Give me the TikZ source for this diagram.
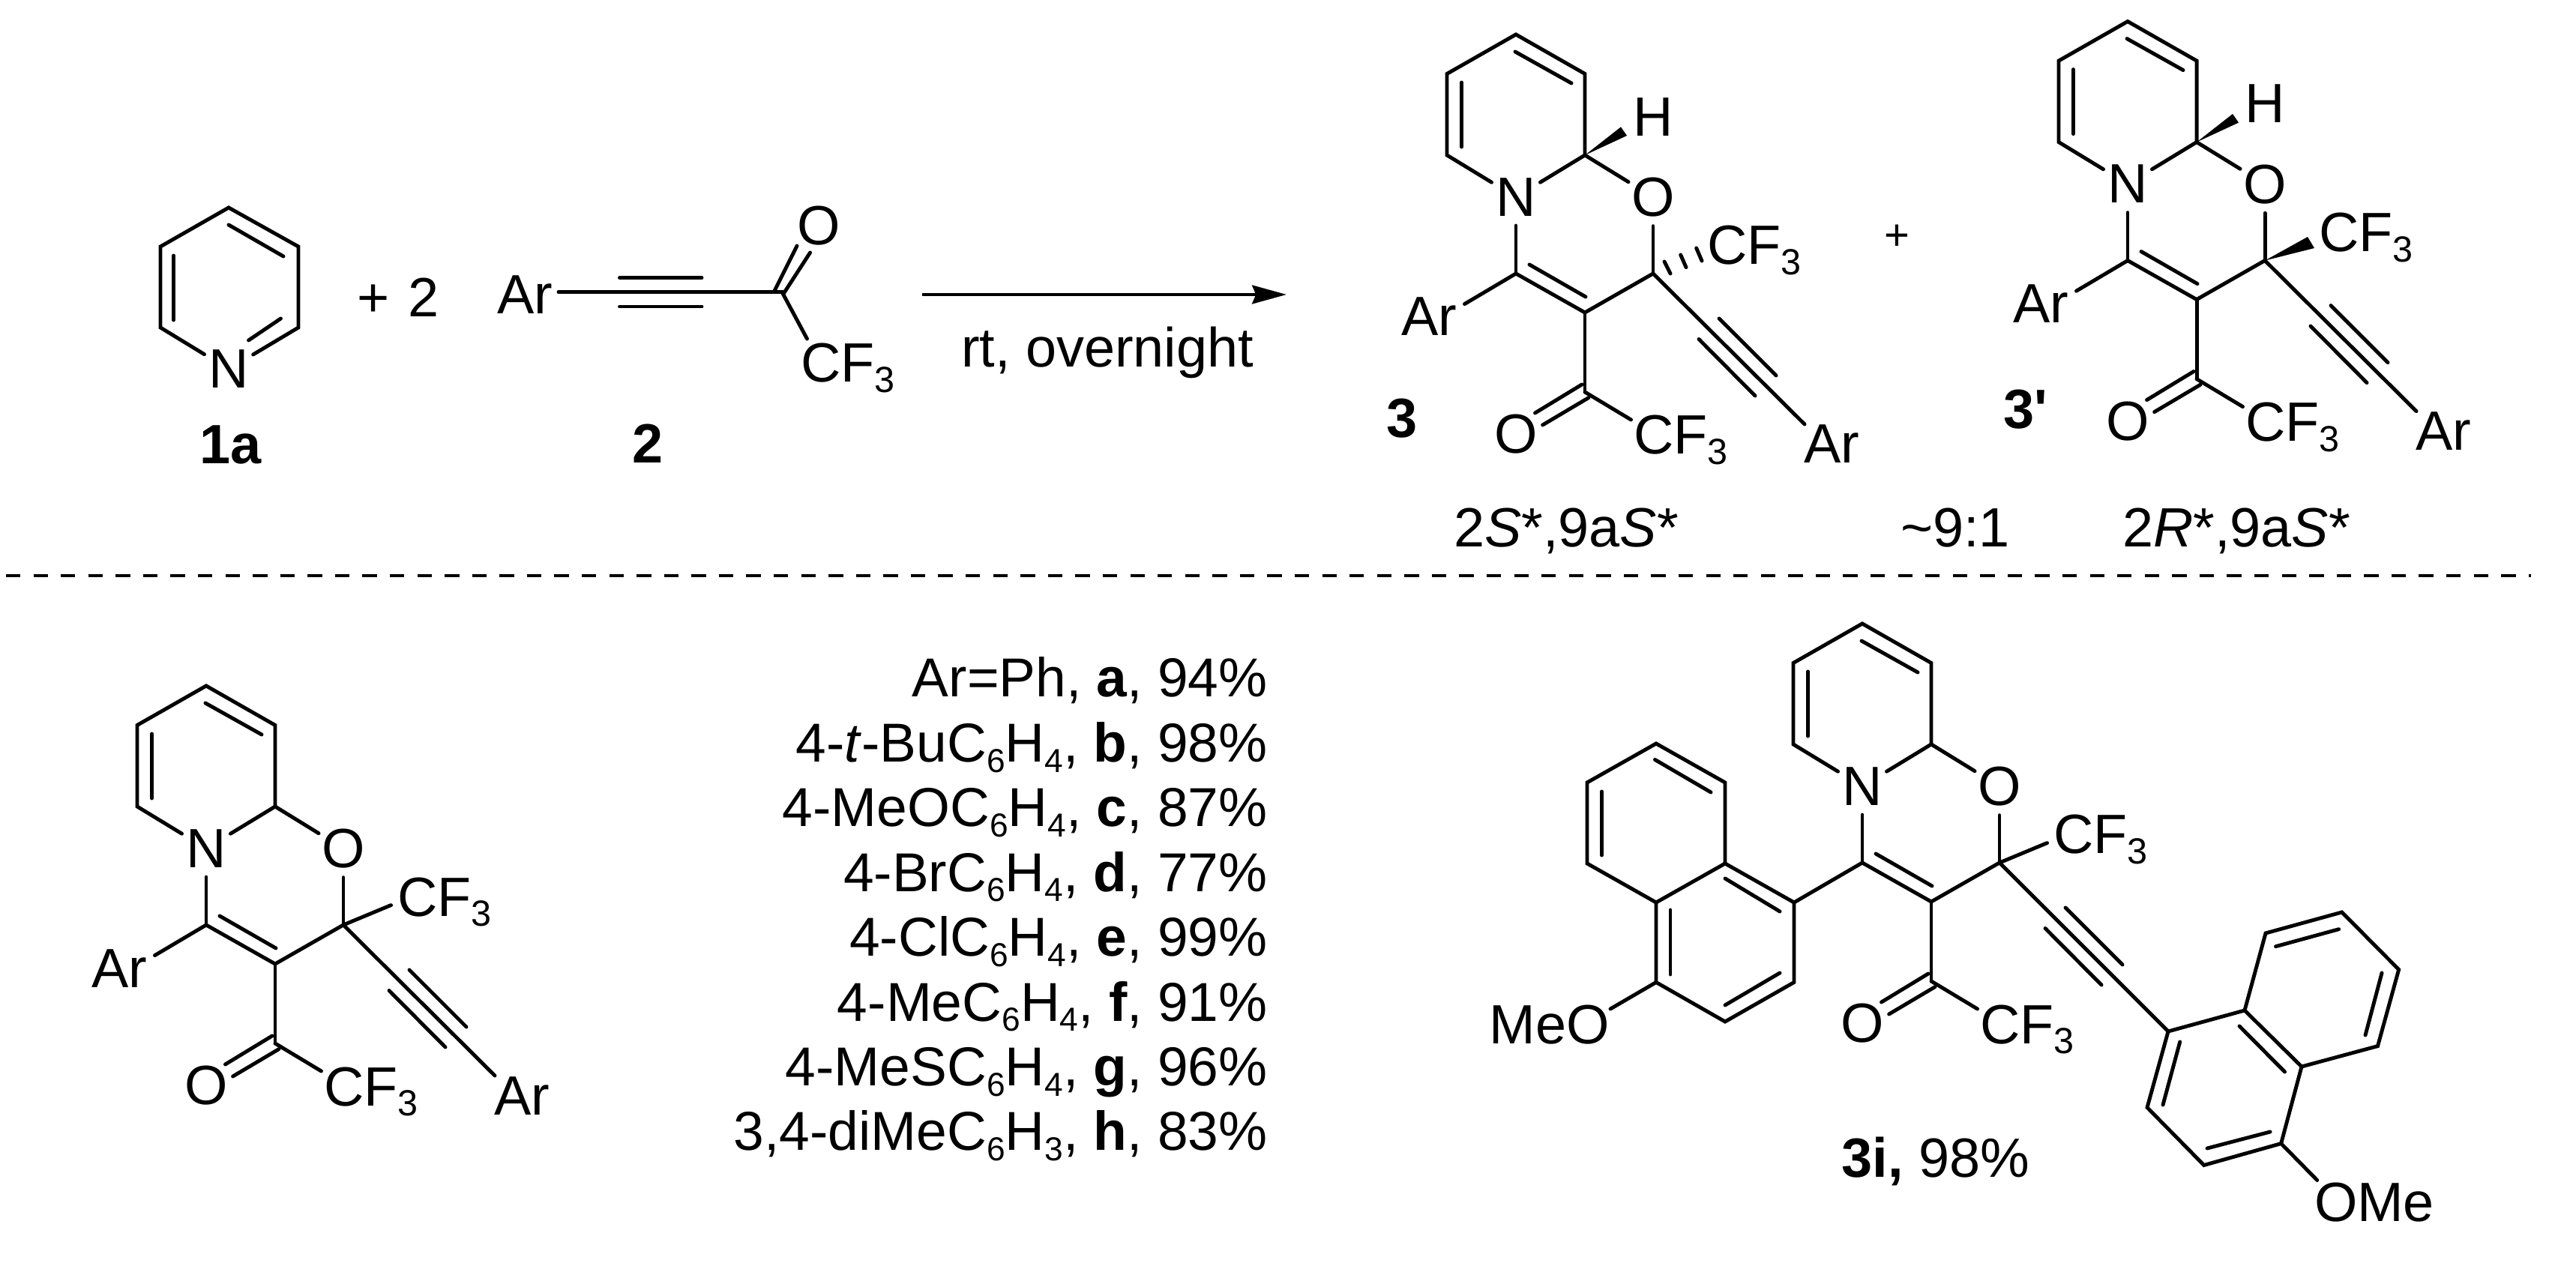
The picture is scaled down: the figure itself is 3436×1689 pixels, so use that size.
\documentclass[tikz,border=0pt]{standalone}
\usepackage{fontspec}
\setmainfont{Liberation Sans}
\newfontfamily\plainf{Liberation Sans}
\usetikzlibrary{arrows.meta}
\newcommand{\subs}[1]{\raisebox{-3.9pt}{\fontsize{13.8}{13.8}\selectfont #1}}
\newcommand{\lsub}[1]{\raisebox{-3.9pt}{\fontsize{12.6}{13}\selectfont #1}}
\newcommand{\chem}[2]{\draw[bond] (#1) -- (#2);}
\tikzset{
  bond/.style={line width=1.4pt,line cap=round,line join=miter},
  lab/.style={inner sep=0pt,outer sep=0pt,font=\fontsize{21}{24}\selectfont},
  atom/.style={lab,circle,minimum size=0.76cm},
  divider/.style={line width=1.4pt,dash pattern=on 5.5pt off 4.9pt},
  lst/.style={inner sep=0pt,outer sep=0pt,font=\fontsize{20.8}{24}\selectfont,anchor=base east}
}
% Fused bicyclic core: drawn in the coordinates of compound 3, moved by a scope
\newcommand{\core}{
  \coordinate (top) at (2022,46);
  \coordinate (ur) at (2114,98.5);
  \coordinate (c9) at (2114,207);
  \coordinate (ul) at (1930,98.5);
  \coordinate (ll) at (1930,207);
  \coordinate (c4) at (2022,365);
  \coordinate (c3) at (2114,417);
  \coordinate (c2) at (2205,365);
  \coordinate (co) at (2114,523);
  \coordinate (cfb) at (2175.5,560);
  \node[atom] (N) at (2022,263) {N};
  \node[atom] (O) at (2205,263) {O};
  \node[atom] (Ok) at (2022,579) {O};
  \node[lab,anchor=base west] (CFk) at (2179,606) {CF\subs{3}};
  \draw[bond] (N) -- (ll) -- (ul) -- (top) -- (ur) -- (c9) -- (N);
  \draw[bond] (c9) -- (O);
  \draw[bond] (O) -- (c2);
  \draw[bond] (N) -- (c4);
  \draw[bond] (c4) -- (c3) -- (c2);
  \draw[bond] (c3) -- (co);
  \draw[bond] (co) -- (cfb);
  \chem{2021,69}{2096,111}
  \chem{1949.5,110}{1949.5,196}
  \chem{2040,353}{2115,396}
  \chem{2110,513}{2047.5,551}
  \chem{2119,530.6}{2057.6,567}
  \chem{2293,425}{2369,501}
  \chem{2266,452.5}{2341,528}
}
\newcommand{\arsub}{
  \coordinate (arb) at (1953.5,405.6);
  \coordinate (alk) at (2407,566);
  \node[lab,anchor=base] (ArL) at (1906,448) {Ar};
  \node[lab,anchor=base] (ArR) at (2443,618) {Ar};
  \draw[bond] (c4) -- (arb);
  \draw[bond] (c2) -- (alk);
}
\newcommand{\cfplain}{
  \coordinate (cfu) at (2268.5,338.6);
  \node[lab,anchor=base west] (CFu) at (2277,353) {CF\subs{3}};
  \draw[bond] (c2) -- (cfu);
}
\newcommand{\hwedge}{
  \coordinate (wa) at (2162,169.4);
  \coordinate (wb) at (2170,181);
  \node[atom] (H) at (2205,156) {H};
  \fill (c9) -- (wa) -- (wb) -- cycle;
}
\begin{document}
\begin{tikzpicture}[x=0.01cm,y=-0.01cm]
\path[use as bounding box,fill=white] (0,0) rectangle (3436,1689);

% ---------- pyridine 1a
\coordinate (pt) at (305,277);
\coordinate (pur) at (398,329);
\coordinate (plr) at (398,437);
\coordinate (pll) at (214,437);
\coordinate (pul) at (214,329);
\node[atom] (pN) at (305,492.5) {N};
\draw[bond] (pN) -- (pll) -- (pul) -- (pt) -- (pur) -- (plr) -- (pN);
\chem{305,300}{378,342}
\chem{374.5,425}{331.6,454}
\chem{231.6,341}{231.6,427}
\node[lab,anchor=base] (l1a) at (308,619) {\bfseries 1a};
\node[lab,anchor=base] (plus2) at (531,423) {+\kern 1.5pt\ 2};

% ---------- ynone 2
\node[lab,anchor=base] (ArY) at (700,419) {Ar};
\coordinate (yb) at (745,389.5);
\coordinate (yc) at (1043,389.5);
\coordinate (ycf) at (1076.5,452);
\node[atom] (yO) at (1092,301) {O};
\node[lab,anchor=base west] (yCF) at (1068,510) {CF\subs{3}};
\draw[bond] (yb) -- (yc) -- (ycf);
\chem{826.5,370.6}{936,370.6}
\chem{826.5,409}{936,409}
\chem{1033,388}{1063,328}
\chem{1045,392}{1080.6,337}
\node[lab,anchor=base] (l2) at (864,618) {\bfseries 2};

% ---------- arrow
\coordinate (arS) at (1229.6,393);
\coordinate (arT) at (1716,393);
\draw[line width=1.4pt,-{Stealth[length=13pt,width=7pt,inset=1.4pt]}] (arS) -- (arT);
\node[lab,anchor=base] (cond) at (1477,490) {rt, overnight};

% ---------- product 3
\begin{scope}[name prefix=a-]
  \core \arsub \hwedge
  \node[lab,anchor=base west] (CFu) at (2277,353) {CF\subs{3}};
  \chem{2220,349}{2228,365}
  \chem{2241.7,340}{2249,356.7}
  \chem{2262.7,331}{2270,348}
\end{scope}
\node[lab,anchor=base] (l3) at (1870,584) {\bfseries 3};
\node[lab,anchor=base] (s3) at (2089,730) {2\textit{S}*,9a\textit{S}*};
\node[lab,font=\fontsize{16.5}{20}\selectfont] (plusb) at (2530,317) {+};
\node[lab,anchor=base] (ratio) at (2608,730) {\textasciitilde 9:1};

% ---------- product 3'
\begin{scope}[shift={(816,-17.4)},name prefix=b-]
  \core \arsub \hwedge
  \coordinate (wc) at (2262,333.4);
  \coordinate (wd) at (2271,348.4);
  \node[lab,anchor=base west] (CFu) at (2277,353) {CF\subs{3}};
  \fill (c2) -- (wc) -- (wd) -- cycle;
\end{scope}
\node[lab,anchor=base west] (l3p) at (2672,572) {\plainf\bfseries 3'};
\node[lab,anchor=base] (s3p) at (2983,730) {2\textit{R}*,9a\textit{S}*};

% ---------- divider
\coordinate (dL) at (8,768);
\coordinate (dR) at (3376,768);
\draw[divider] (dL) -- (dR);

% ---------- general structure
\begin{scope}[shift={(-1747,869)},name prefix=c-]
  \core \arsub \cfplain
\end{scope}

% ---------- list
\foreach \n/\t in {0/{Ar=Ph, \textbf{a}, 94\%},
                   1/{4-\textit{t}-BuC\lsub{6}H\lsub{4}, \textbf{b}, 98\%},
                   2/{4-MeOC\lsub{6}H\lsub{4}, \textbf{c}, 87\%},
                   3/{4-BrC\lsub{6}H\lsub{4}, \textbf{d}, 77\%},
                   4/{4-ClC\lsub{6}H\lsub{4}, \textbf{e}, 99\%},
                   5/{4-MeC\lsub{6}H\lsub{4}, \textbf{f}, 91\%},
                   6/{4-MeSC\lsub{6}H\lsub{4}, \textbf{g}, 96\%},
                   7/{3,4-diMeC\lsub{6}H\lsub{3}, \textbf{h}, 83\%}}
  \node[lst] (row\n) at (1690.6,{930+86.4*\n}) {\t};

% ---------- 3i
\begin{scope}[shift={(462,786)},name prefix=d-]
  \core \cfplain
\end{scope}
% left naphthyl
\coordinate (la) at (2393,1204);
\coordinate (lb) at (2301,1152);
\coordinate (lc) at (2209,1204);
\coordinate (ld) at (2209,1310.5);
\coordinate (le) at (2301,1363);
\coordinate (lf) at (2393,1310.5);
\coordinate (lg) at (2301,1044);
\coordinate (lh) at (2209,992);
\coordinate (li) at (2117,1044);
\coordinate (lj) at (2117,1152);
\coordinate (lo) at (2148,1346);
\draw[bond] (la) -- (lb) -- (lc) -- (ld) -- (le) -- (lf) -- cycle;
\draw[bond] (lb) -- (lg) -- (lh) -- (li) -- (lj) -- (lc);
\draw[bond] (d-c4) -- (la);
\draw[bond] (ld) -- (lo);
\chem{2282,1057}{2207.5,1013.5}
\chem{2136.5,1056}{2136.5,1141}
\chem{2301,1172}{2374,1216}
\chem{2228,1214}{2228,1300}
\chem{2301,1341}{2374,1298}
\node[lab,anchor=base] (MeO) at (2066.5,1392) {MeO};
% right naphthyl
\coordinate (ra) at (2892,1376);
\coordinate (rb) at (2994,1348);
\coordinate (rc) at (3070,1423);
\coordinate (rd) at (3042.6,1525.6);
\coordinate (re) at (2939.7,1554.5);
\coordinate (rf) at (2864,1477.5);
\coordinate (rg) at (3022,1245);
\coordinate (rh) at (3123.7,1217);
\coordinate (ri) at (3199.6,1293.5);
\coordinate (rj) at (3171.5,1395.6);
\coordinate (ro) at (3090.7,1574.5);
\draw[bond] (ra) -- (rb) -- (rc) -- (rd) -- (re) -- (rf) -- cycle;
\draw[bond] (rb) -- (rg) -- (rh) -- (ri) -- (rj) -- (rc);
\draw[bond] (d-c2) -- (ra);
\draw[bond] (rd) -- (ro);
\chem{2987,1369}{3047.5,1430}
\chem{3035.5,1262.7}{3119.6,1239.7}
\chem{3177,1298}{3155,1381}
\chem{2907.7,1390}{2885,1474}
\chem{3028,1510}{2944,1532}
\node[lab,anchor=base] (OMe) at (3167,1629.7) {OMe};
\node[lab,anchor=base] (l3i) at (2582,1570.7) {\textbf{3i,} 98\%};
\end{tikzpicture}
\end{document}
